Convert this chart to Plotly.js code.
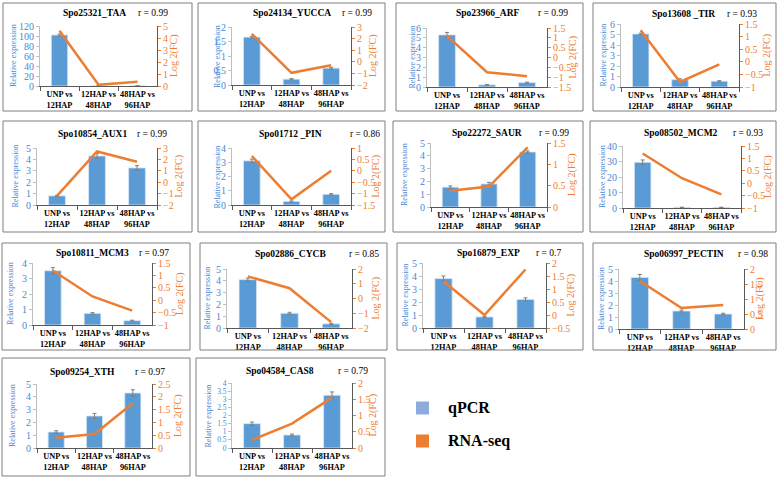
<!DOCTYPE html>
<html>
<head>
<meta charset="utf-8">
<script src="https://cdn.plot.ly/plotly-3.0.1.min.js"></script>
<style>html,body{margin:0;padding:0;background:#fff;}#chart{width:778px;height:480px;}</style>
</head>
<body>
<div id="chart"></div>
<script>
// ---------- data ----------
const categories = ["UNP vs<br>12HAP", "12HAP vs<br>48HAP", "48HAP vs<br>96HAP"];
const genes = ["Spo25321_TAA","Spo24134_YUCCA","Spo23966_ARF","Spo13608 _TIR","Spo10854_AUX1","Spo01712 _PIN","Spo22272_SAUR","Spo08502_MCM2","Spo10811_MCM3","Spo02886_CYCB","Spo16879_EXP","Spo06997_PECTIN","Spo09254_XTH","Spo04584_CAS8"];
const rValues = ["0.99","0.99","0.99","0.93","0.99","0.86","0.99","0.93","0.97","0.85","0.7","0.98","0.97","0.79"];
const qpcr = [
  [102, 0.3, 0.2],
  [1.65, 0.2, 0.58],
  [5.3, 0.22, 0.45],
  [5.05, 0.7, 0.55],
  [0.8, 4.3, 3.25],
  [3.1, 0.25, 0.75],
  [1.55, 1.8, 4.3],
  [29.5, 0.4, 0.4],
  [3.5, 0.75, 0.28],
  [4.1, 1.25, 0.35],
  [3.8, 0.85, 2.2],
  [4.3, 1.5, 1.25],
  [1.25, 2.5, 4.3],
  [1.5, 0.8, 3.25]
];
const qpcrErr = [
  [2, 0.05, 0.03],
  [0.03, 0.02, 0.03],
  [0.25, 0.04, 0.04],
  [0.08, 0.08, 0.05],
  [0.05, 0.2, 0.2],
  [0.12, 0.03, 0.05],
  [0.1, 0.12, 0.08],
  [1.5, 0.1, 0.1],
  [0.2, 0.05, 0.03],
  [0.12, 0.08, 0.05],
  [0.2, 0.05, 0.12],
  [0.25, 0.08, 0.06],
  [0.1, 0.2, 0.25],
  [0.1, 0.06, 0.2]
];
const rnaseq = [
  [4.6, 0.1, 0.35],
  [2.4, -0.95, -0.3],
  [1.1, -0.75, -0.95],
  [1.25, -0.8, -0.1],
  [-1.2, 2.7, 1.8],
  [0.65, -1.25, 0],
  [0.38, 0.48, 1.4],
  [1.2, 0.2, -0.45],
  [1.2, 0.15, -0.42],
  [1.5, 0.7, -1.6],
  [1.3, 0, 1.75],
  [1.6, 0.7, 0.8],
  [0.4, 0.55, 1.75],
  [0.25, 0.75, 1.55]
];
// axis scales (left: max, dtick; right: min, max, dtick)
const leftMax   = [120, 2, 6, 6, 5, 4, 5, 40, 4, 5, 5, 5, 5, 4];
const leftDtick = [20, 0.5, 1, 1, 1, 1, 1, 10, 1, 1, 1, 1, 1, 0.5];
const rightMin  = [0, -2, -1.5, -1, -2, -1.5, 0, -1, -1, -2, -0.5, 0, 0, 0];
const rightMax  = [5, 3, 1.5, 1.5, 3, 1, 1.5, 1.5, 1.5, 2, 2, 2, 2.5, 2];
const rightDtick= [1, 1, 0.5, 0.5, 1, 0.5, 0.5, 0.5, 0.5, 1, 0.5, 0.5, 0.5, 0.5];

// ---------- layout geometry (pixels) ----------
const W = 778, H = 480;
// plot areas: [left, right, top, bottom]
const plotRects = [
  [40,157,26,86],[232,351,27,85],[427,547,28,87],[621,739,24,87],
  [37,157,148,205],[232,351,148,205],[431,547,143,207],[623,741,146,208],
  [33,152,263,325],[227,352,269,328],[423,546,263,328],[619,744,269,329],
  [37,152,384,448],[232,352,383,448]
];
// panel boxes: [left, right, top, bottom]
const boxes = [
  [3,192,3,111],[198,385,3,111],[396,583,3,111],[593,776,3,111],
  [3,192,121,232],[198,385,121,232],[393,583,121,232],[590,776,121,232],
  [2,190,243,350],[200,387,243,350],[397,583,243,350],[593,776,243,350],
  [2,190,358,476],[196,385,358,476]
];
const titlePos = [[94,13],[292,13],[488,13],[683,14],[92,134],[290,134],[487,133],[681,133],[92,253],[290,254],[488,253],[684,254],[82,372],[280,371]];
const rPos = [153,357,553,742,152,365,554,748,154,364,548,753,150,353];
const relX = [13,217,412,603,15,217,405,602,10,207,405,601,12,208];
const logX = [174,373,573,767,178,375,572,768,180,375,570,760,178,372];
const leftTickSize = [10,10,10,10,10,10,10,10,10,10,10,10,10,7.5];

const BLUE = '#5b9bd5', BLUE_TXT = '#4a86d4', ORANGE = '#ed7d31';
const SERIF = "'Liberation Serif', 'Times New Roman', serif";
const px = v => v / W, py = v => 1 - v / H;

const data = [];
const layout = {
  width: W, height: H,
  margin: {l:0, r:0, t:0, b:0},
  paper_bgcolor: '#fff', plot_bgcolor: 'rgba(0,0,0,0)',
  showlegend: false,
  bargap: 0.58,
  font: {family: SERIF, size: 10, color: '#000'},
  annotations: [], shapes: []
};

genes.forEach((g, i) => {
  const n = i + 1;
  const xk = n === 1 ? 'xaxis' : 'xaxis' + n;
  const xr = n === 1 ? 'x' : 'x' + n;
  const yl = 2 * n - 1, yr = 2 * n;
  const ylk = yl === 1 ? 'yaxis' : 'yaxis' + yl;
  const ylr = yl === 1 ? 'y' : 'y' + yl;
  const yrk = 'yaxis' + yr, yrr = 'y' + yr;
  const [L, R, T, B] = plotRects[i];

  data.push({
    type: 'bar', x: categories, y: qpcr[i], xaxis: xr, yaxis: ylr,
    marker: {color: BLUE, line: {color: '#d9e6f4', width: 0.8}},
    error_y: {type: 'data', array: qpcrErr[i], visible: true, color: '#7f7f7f', thickness: 1, width: 2},
    name: 'qPCR', hoverinfo: 'skip'
  });
  data.push({
    type: 'scatter', mode: 'lines', x: categories, y: rnaseq[i], xaxis: xr, yaxis: yrr,
    line: {color: ORANGE, width: 2.5}, name: 'RNA-seq', hoverinfo: 'skip'
  });

  layout[xk] = {
    domain: [px(L), px(R)], anchor: ylr,
    type: 'category', showline: true, linecolor: '#595959', linewidth: 1,
    ticks: 'outside', tickson: 'boundaries', ticklen: 4, tickcolor: '#595959',
    tickangle: 0,
    tickfont: {family: SERIF, size: 8.3, color: '#000', weight: 'bold'},
    showgrid: false, zeroline: false, fixedrange: true
  };
  layout[ylk] = {
    domain: [py(B), py(T)], anchor: xr,
    range: [0, leftMax[i]], dtick: leftDtick[i], tick0: 0,
    showline: true, linecolor: '#bfbfbf', linewidth: 1,
    ticks: 'outside', ticklen: 3, tickcolor: '#bfbfbf',
    tickfont: {family: SERIF, size: leftTickSize[i], color: BLUE_TXT},
    showgrid: false, zeroline: false, fixedrange: true
  };
  layout[yrk] = {
    overlaying: ylr, side: 'right', anchor: xr,
    range: [rightMin[i], rightMax[i]], dtick: rightDtick[i], tick0: 0,
    showline: true, linecolor: '#595959', linewidth: 1,
    ticks: 'outside', ticklen: 3, tickcolor: ORANGE,
    tickfont: {family: SERIF, size: 10, color: ORANGE},
    showgrid: false, zeroline: false, fixedrange: true
  };

  const [bl, br, bt, bb] = boxes[i];
  layout.shapes.push({type: 'rect', xref: 'paper', yref: 'paper', x0: px(bl), x1: px(br), y0: py(bb), y1: py(bt), line: {color: '#7f7f7f', width: 1}});

  layout.annotations.push({xref: 'paper', yref: 'paper', x: px(titlePos[i][0]), y: py(titlePos[i][1]), text: '<b>' + g + '</b>', showarrow: false, xanchor: 'center', yanchor: 'middle', font: {family: SERIF, size: 9.5, color: '#000'}});
  layout.annotations.push({xref: 'paper', yref: 'paper', x: px(rPos[i]), y: py(titlePos[i][1]), text: 'r = ' + rValues[i], showarrow: false, xanchor: 'center', yanchor: 'middle', font: {family: SERIF, size: 9.5, color: '#000'}});
  layout.annotations.push({xref: 'paper', yref: 'paper', x: px(relX[i]), y: py((T + B) / 2), text: 'Relative expression', textangle: -90, showarrow: false, xanchor: 'center', yanchor: 'middle', font: {family: SERIF, size: 8, color: BLUE_TXT}});
  layout.annotations.push({xref: 'paper', yref: 'paper', x: px(logX[i]), y: py((T + B) / 2), text: 'Log 2(FC)', textangle: -90, showarrow: false, xanchor: 'center', yanchor: 'middle', font: {family: SERIF, size: 10, color: ORANGE}});
});

// legend (drawn manually as squares + labels)
const legendItems = [['qPCR', '#8faadc', 408], ['RNA-seq', ORANGE, 441]];
legendItems.forEach(([label, col, yc]) => {
  layout.shapes.push({type: 'rect', xref: 'paper', yref: 'paper', x0: px(416), x1: px(429), y0: py(yc + 6.5), y1: py(yc - 6.5), fillcolor: col, line: {width: 0}});
  layout.annotations.push({xref: 'paper', yref: 'paper', x: px(446), y: py(yc), text: '<b>' + label + '</b>', showarrow: false, xanchor: 'left', yanchor: 'middle', font: {family: SERIF, size: 16, color: '#000'}});
});

Plotly.newPlot('chart', data, layout, {staticPlot: true, displayModeBar: false});
</script>
</body>
</html>
